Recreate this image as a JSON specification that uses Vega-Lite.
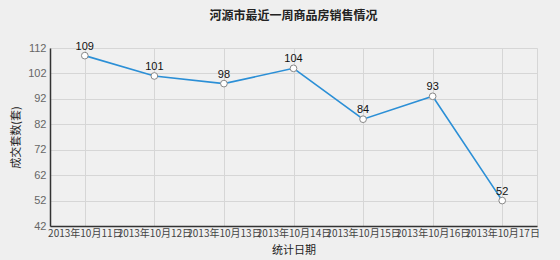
{
  "$schema": "https://vega.github.io/schema/vega-lite/v6.json",
  "autosize": "none",
  "width": 487,
  "height": 178,
  "padding": {"left": 50, "top": 48, "right": 23, "bottom": 34},
  "background": "#efefef",
  "title": {"text": "河源市最近一周商品房销售情况", "font": "Noto Sans CJK SC", "fontSize": 12, "fontWeight": "bold", "color": "#222222", "anchor": "middle", "offset": 18},
  "config": {"view": {"stroke": "#d6d6d6", "fill": "#f0f0f0"}, "font": "Noto Sans CJK SC"},
  "data": {"values": [
    {"date": "2013年10月11日", "value": 109},
    {"date": "2013年10月12日", "value": 101},
    {"date": "2013年10月13日", "value": 98},
    {"date": "2013年10月14日", "value": 104},
    {"date": "2013年10月15日", "value": 84},
    {"date": "2013年10月16日", "value": 93},
    {"date": "2013年10月17日", "value": 52}
  ]},
  "encoding": {
    "x": {"field": "date", "type": "ordinal", "sort": null, "scale": {"type": "point", "padding": 0.5},
      "axis": {"title": "统计日期", "titleFontSize": 11, "titleFontWeight": "normal", "titleColor": "#222", "titlePadding": 6,
        "labelAngle": 0, "labelFontSize": 10, "labelColor": "#444", "labelOverlap": false, "labelPadding": 2,
        "ticks": false, "domainColor": "#333", "domainWidth": 1.5, "grid": true, "gridColor": "#d6d6d6", "labelFont": "Noto Sans CJK SC"}},
    "y": {"field": "value", "type": "quantitative", "scale": {"domain": [42, 112], "nice": false, "zero": false},
      "axis": {"title": "成交套数(套)", "titleFontSize": 11, "titleFontWeight": "normal", "titleColor": "#222", "titlePadding": 6,
        "values": [42, 52, 62, 72, 82, 92, 102, 112], "labelFontSize": 11, "labelColor": "#666", "ticks": false, "labelPadding": 4,
        "domainColor": "#333", "domainWidth": 1.5, "gridColor": "#d6d6d6", "labelFont": "Liberation Sans"}}
  },
  "layer": [
    {"mark": {"type": "line", "color": "#2b8fd6", "strokeWidth": 1.6}},
    {"mark": {"type": "point", "filled": true, "fill": "#ffffff", "stroke": "#888888", "strokeWidth": 1, "size": 45, "opacity": 1}},
    {"mark": {"type": "text", "dy": -9, "fontSize": 11, "color": "#111", "font": "Liberation Sans"}, "encoding": {"text": {"field": "value"}}}
  ]
}
